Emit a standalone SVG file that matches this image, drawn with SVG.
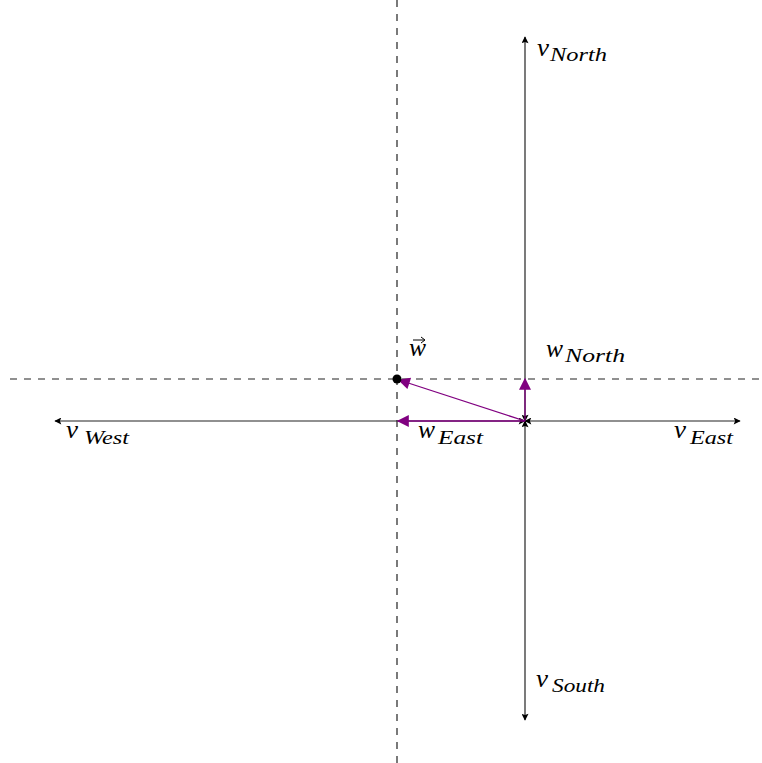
<svg xmlns="http://www.w3.org/2000/svg" width="762" height="763" viewBox="0 0 762 763">
<defs>
<marker id="ah" viewBox="0 0 10 10" refX="9" refY="5" markerWidth="8" markerHeight="7" markerUnits="userSpaceOnUse" orient="auto-start-reverse">
<path d="M0,0 L10,5 L0,10 L2,5 Z" fill="#000"/>
</marker>
<marker id="ap" viewBox="0 0 10 10" refX="9" refY="5" markerWidth="16" markerHeight="12" markerUnits="userSpaceOnUse" orient="auto">
<path d="M0,0 L10,5 L0,10 Z" fill="#800080"/>
</marker>
</defs>
<style>
.ax{stroke:#222;stroke-width:1.2;fill:none}
.dash{stroke:#222;stroke-width:1.2;stroke-dasharray:7 7;fill:none}
.pv{stroke:#800080;stroke-width:1.3;fill:none}
.m{font-family:"Liberation Serif","DejaVu Serif",serif;font-style:italic;font-size:26px;fill:#000}
.s{font-family:"Liberation Serif","DejaVu Serif",serif;font-style:italic;font-size:18px;fill:#000}
</style>
<g id="grid">
<line class="dash" x1="397" y1="0" x2="397" y2="763"/>
<line class="dash" x1="10" y1="379" x2="762" y2="379"/>
</g>
<g id="connectors">
<line class="ax" x1="525" y1="421" x2="525" y2="37" marker-start="url(#ah)" marker-end="url(#ah)"/>
<line class="ax" x1="525" y1="421" x2="525" y2="720" marker-start="url(#ah)" marker-end="url(#ah)"/>
<line class="ax" x1="525" y1="421" x2="55" y2="421" marker-start="url(#ah)" marker-end="url(#ah)"/>
<line class="ax" x1="525" y1="421" x2="740" y2="421" marker-start="url(#ah)" marker-end="url(#ah)"/>
<line class="pv" x1="525" y1="421" x2="399" y2="380" marker-end="url(#ap)"/>
<line class="pv" x1="525" y1="421" x2="398" y2="421" marker-end="url(#ap)"/>
<line class="pv" x1="525" y1="421" x2="525" y2="379" marker-end="url(#ap)"/>
</g>
<g id="point-w">
<circle cx="397" cy="379" r="4.5" fill="#000"/>
<text class="m" x="409" y="356" textLength="17" lengthAdjust="spacingAndGlyphs">w</text>
<path d="M413,340 L424,340 M421,337 L425,340 L421,343" stroke="#000" stroke-width="1" fill="none"/>
</g>
<g id="label-vNorth"><text class="m" x="537" y="56" textLength="12" lengthAdjust="spacingAndGlyphs">v</text><text class="s" x="550" y="61" textLength="57" lengthAdjust="spacingAndGlyphs">North</text></g>
<g id="label-wNorth"><text class="m" x="546" y="357" textLength="17" lengthAdjust="spacingAndGlyphs">w</text><text class="s" x="565" y="362" textLength="60" lengthAdjust="spacingAndGlyphs">North</text></g>
<g id="label-vWest"><text class="m" x="66" y="438" textLength="12" lengthAdjust="spacingAndGlyphs">v</text><text class="s" x="84" y="444" textLength="45" lengthAdjust="spacingAndGlyphs">West</text></g>
<g id="label-wEast"><text class="m" x="418" y="438" textLength="17" lengthAdjust="spacingAndGlyphs">w</text><text class="s" x="438" y="444" textLength="45" lengthAdjust="spacingAndGlyphs">East</text></g>
<g id="label-vEast"><text class="m" x="674" y="438" textLength="12" lengthAdjust="spacingAndGlyphs">v</text><text class="s" x="690" y="444" textLength="43" lengthAdjust="spacingAndGlyphs">East</text></g>
<g id="label-vSouth"><text class="m" x="536" y="687" textLength="12" lengthAdjust="spacingAndGlyphs">v</text><text class="s" x="552" y="692" textLength="53" lengthAdjust="spacingAndGlyphs">South</text></g>
</svg>
